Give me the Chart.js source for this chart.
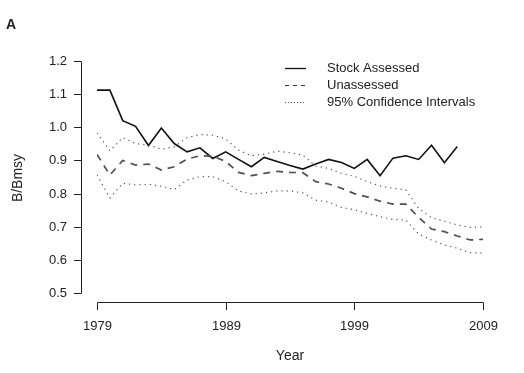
<!DOCTYPE html>
<html>
<head>
<meta charset="utf-8">
<script src="https://cdn.jsdelivr.net/npm/chart.js@4/dist/chart.umd.min.js"></script>
<style>
    html, body { margin: 0; padding: 0; background: #fff; }
    #wrap { width: 524px; height: 373px; }
</style>
</head>
<body>
<div id="wrap"><canvas id="chart"></canvas></div>
<script>
// data
var years = []
for (var y = 1979; y <= 2009; y++) years.push(y)

var assessed = [1.112, 1.112, 1.02, 1.003, 0.945, 0.998, 0.951, 0.926, 0.938, 0.906, 0.926,
    0.903, 0.881, 0.909, 0.897, 0.885, 0.874, 0.889, 0.903, 0.894, 0.876,
    0.903, 0.854, 0.907, 0.914, 0.903, 0.946, 0.893, 0.942]

var unassessed = [0.918, 0.856, 0.9, 0.886, 0.889, 0.871, 0.881, 0.904, 0.914, 0.913, 0.897,
    0.864, 0.854, 0.861, 0.867, 0.864, 0.863, 0.836, 0.829, 0.816, 0.8,
    0.79, 0.777, 0.768, 0.768, 0.728, 0.693, 0.685, 0.672, 0.66, 0.662]

var upperCI = [0.983, 0.929, 0.969, 0.951, 0.946, 0.934, 0.941, 0.969, 0.978, 0.976, 0.965,
    0.931, 0.914, 0.919, 0.928, 0.923, 0.916, 0.883, 0.876, 0.861, 0.852,
    0.836, 0.823, 0.816, 0.811, 0.755, 0.727, 0.717, 0.705, 0.698, 0.7]

var lowerCI = [0.856, 0.787, 0.831, 0.826, 0.828, 0.822, 0.812, 0.841, 0.851, 0.851, 0.836,
    0.808, 0.799, 0.802, 0.808, 0.808, 0.802, 0.78, 0.775, 0.758, 0.751,
    0.74, 0.73, 0.722, 0.72, 0.678, 0.66, 0.645, 0.635, 0.622, 0.62]

var xTicks = [1979, 1989, 1999, 2009]
var yTicks = [0.5, 0.6, 0.7, 0.8, 0.9, 1.0, 1.1, 1.2]

var FONT = '"Liberation Sans", Arial, sans-serif'

function pts(vals) {
    return vals.map(function(v, i) { return { x: years[i], y: v } })
}

// R-style detached axes, legend and labels
var rAxes = {
    id: 'rAxes',
    afterDraw: function(chart) {
        var ctx = chart.ctx
        var xs = chart.scales.x
        var ys = chart.scales.y
        var axX = 81, axY = 302
        ctx.save()
        ctx.strokeStyle = '#222'
        ctx.lineWidth = 1
        ctx.fillStyle = '#222'
        ctx.font = '13px ' + FONT

        // y axis
        var y0 = Math.round(ys.getPixelForValue(yTicks[0])) + 0.5
        var y1 = Math.round(ys.getPixelForValue(yTicks[yTicks.length - 1])) + 0.5
        ctx.beginPath()
        ctx.moveTo(axX + 0.5, y0)
        ctx.lineTo(axX + 0.5, y1)
        ctx.stroke()
        ctx.textAlign = 'right'
        ctx.textBaseline = 'middle'
        yTicks.forEach(function(t) {
            var p = Math.round(ys.getPixelForValue(t)) + 0.5
            ctx.beginPath()
            ctx.moveTo(axX - 7, p)
            ctx.lineTo(axX + 0.5, p)
            ctx.stroke()
            ctx.fillText(t.toFixed(1), 67, p)
        })

        // x axis
        var x0 = Math.round(xs.getPixelForValue(xTicks[0])) + 0.5
        var x1 = Math.round(xs.getPixelForValue(xTicks[xTicks.length - 1])) + 0.5
        ctx.beginPath()
        ctx.moveTo(x0, axY + 0.5)
        ctx.lineTo(x1, axY + 0.5)
        ctx.stroke()
        ctx.textAlign = 'center'
        ctx.textBaseline = 'middle'
        xTicks.forEach(function(t) {
            var p = Math.round(xs.getPixelForValue(t)) + 0.5
            ctx.beginPath()
            ctx.moveTo(p, axY + 0.5)
            ctx.lineTo(p, axY + 8)
            ctx.stroke()
            ctx.fillText(String(t), p, 326)
        })

        // axis titles
        ctx.font = '14px ' + FONT
        ctx.fillText('Year', 290, 356)
        ctx.save()
        ctx.translate(18, 178)
        ctx.rotate(-Math.PI / 2)
        ctx.fillText('B/Bmsy', 0, 0)
        ctx.restore()

        ctx.font = 'bold 14px ' + FONT
        ctx.textAlign = 'left'
        ctx.fillText('A', 6, 25)

        // legend
        var rows = [
            { label: 'Stock Assessed', color: '#111', dash: [], width: 1.3 },
            { label: 'Unassessed', color: '#333', dash: [4, 4], width: 1 },
            { label: '95% Confidence Intervals', color: '#555', dash: [1, 2], width: 1 }
        ]
        ctx.font = '13px ' + FONT
        ctx.textBaseline = 'middle'
        rows.forEach(function(r, i) {
            var ry = 68.5 + i * 17
            ctx.beginPath()
            ctx.setLineDash(r.dash)
            ctx.strokeStyle = r.color
            ctx.lineWidth = r.width
            ctx.moveTo(285, ry)
            ctx.lineTo(306, ry)
            ctx.stroke()
            ctx.setLineDash([])
            ctx.fillStyle = '#222'
            ctx.fillText(r.label, 327, ry)
        })
        ctx.restore()
    }
}

var dotted = {
    borderColor: '#555', borderWidth: 1.2, borderDash: [1.2, 4], pointRadius: 0,
    tension: 0, fill: false
}

new Chart(document.getElementById('chart'), {
    type: 'line',
    data: {
        datasets: [
            Object.assign({ label: 'Upper 95% CI', data: pts(upperCI) }, dotted),
            Object.assign({ label: 'Lower 95% CI', data: pts(lowerCI) }, dotted),
            {
                label: 'Unassessed', data: pts(unassessed),
                borderColor: '#505050', borderWidth: 1.7, borderDash: [7, 6],
                pointRadius: 0, tension: 0, fill: false
            },
            {
                label: 'Stock Assessed', data: pts(assessed),
                borderColor: '#111', borderWidth: 1.6,
                pointRadius: 0, tension: 0, fill: false
            }
        ]
    },
    options: {
        responsive: true,
        maintainAspectRatio: false,
        animation: false,
        layout: { padding: { left: 97, right: 41, top: 61, bottom: 80 } },
        plugins: { legend: { display: false }, tooltip: { enabled: false } },
        scales: {
            x: { type: 'linear', min: 1979, max: 2009, display: false },
            y: { type: 'linear', min: 0.5, max: 1.2, display: false }
        }
    },
    plugins: [rAxes]
})
</script>
</body>
</html>
